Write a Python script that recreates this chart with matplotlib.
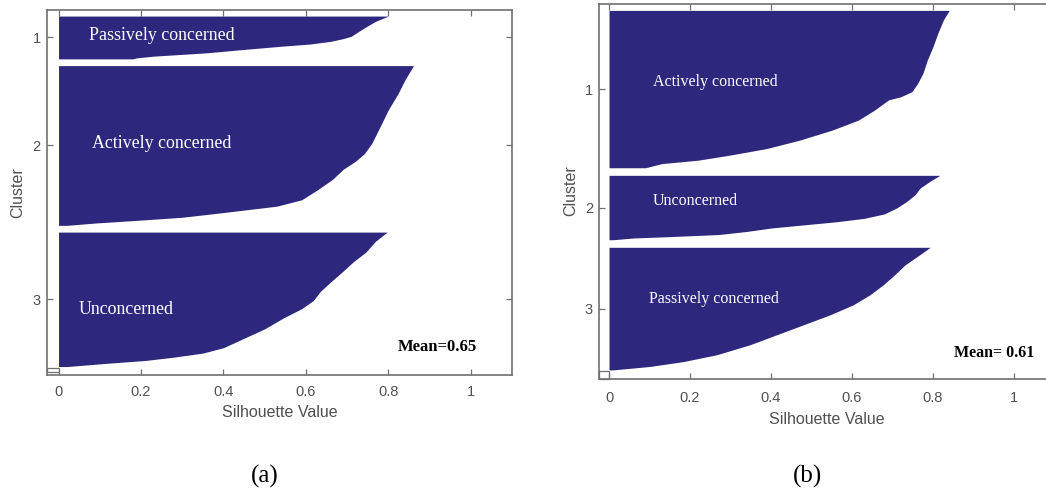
import numpy as np
import matplotlib
matplotlib.use("Agg")
from matplotlib import pyplot as plt
from matplotlib.patches import Rectangle

# ---- data ----
# cluster sizes (samples) and sorted silhouette profile (rank within cluster -> value)
a_sizes = [127, 474, 399]
a_gap = 20
a_rank = [
    [0, 15, 29, 44, 60, 67, 75, 83, 89, 99, 109, 119, 124, 127],
    [0, 43, 82, 131, 181, 230, 261, 284, 308, 337, 367, 398, 417, 436, 450, 460, 467, 474],
    [0, 28, 60, 88, 116, 148, 176, 203, 227, 255, 287, 315, 343, 359, 371, 381, 389, 395, 399],
]
a_sil = [
    [0.80, 0.77, 0.75, 0.73, 0.71, 0.69, 0.66, 0.61, 0.545, 0.45, 0.36, 0.23, 0.19, 0.18],
    [0.861, 0.84, 0.824, 0.80, 0.78, 0.76, 0.742, 0.72, 0.69, 0.665, 0.63, 0.59, 0.53, 0.40,
     0.30, 0.18, 0.09, 0.02],
    [0.797, 0.768, 0.745, 0.715, 0.69, 0.66, 0.635, 0.618, 0.59, 0.545, 0.50, 0.45, 0.40,
     0.35, 0.28, 0.21, 0.12, 0.06, 0.02],
]
a_names = ["Passively concerned", "Actively concerned", "Unconcerned"]
a_mean = "Mean=0.65"

b_sizes = [457, 187, 356]
b_gap = 22
b_rank = [
    [0, 27, 66, 105, 144, 183, 212, 236, 251, 260, 290, 319, 348, 377, 401, 420, 435, 445, 457],
    [0, 17, 37, 56, 76, 95, 112, 125, 135, 144, 153, 163, 172, 178, 182, 187],
    [0, 21, 51, 79, 109, 138, 167, 196, 225, 254, 283, 312, 332, 346, 356],
]
b_sil = [
    [0.84, 0.826, 0.812, 0.80, 0.786, 0.775, 0.762, 0.748, 0.72, 0.69, 0.655, 0.615, 0.55,
     0.47, 0.39, 0.30, 0.22, 0.13, 0.09],
    [0.817, 0.793, 0.768, 0.756, 0.735, 0.71, 0.68, 0.63, 0.56, 0.48, 0.40, 0.34, 0.27,
     0.15, 0.06, 0.01],
    [0.793, 0.768, 0.731, 0.706, 0.677, 0.644, 0.603, 0.546, 0.48, 0.414, 0.348, 0.266,
     0.183, 0.101, 0.01],
]
b_names = ["Actively concerned", "Unconcerned", "Passively concerned"]
b_mean = "Mean= 0.61"

xticks = [0, 0.2, 0.4, 0.6, 0.8, 1]
xticklabels = ["0", "0.2", "0.4", "0.6", "0.8", "1"]

bar_color = "#2d287d"
frame_color = "#707070"
tick_text = "#505050"
serif = "Liberation Serif"
sans = "Liberation Sans"

W, H = 1046, 491
fig = plt.figure(figsize=(W / 100, H / 100), dpi=100)


def silplot(rect, sizes, gap, ranks, sils, names, name_pos, name_fs, mean_txt, mean_pos, mean_fs,
            xlim, ylim_pad, box_h, xlabel_y, tickpad):
    ax = fig.add_axes(rect)
    starts = np.concatenate([[0], np.cumsum(np.array(sizes) + gap)[:-1]])
    for s, r, v in zip(starts, ranks, sils):
        y = s + np.array(r)
        ax.fill_betweenx(y, 0, v, color=bar_color, lw=0)
    end = starts[-1] + sizes[-1]
    # little baseline box at the bottom left (matlab leftover)
    ax.add_patch(Rectangle((xlim[0], end + 3), -xlim[0], box_h, fc="white", ec=frame_color,
                           lw=0.9, clip_on=False))
    centers = starts + np.array(sizes) / 2
    for nm, (px, py) in zip(names, name_pos):
        ax.text(px, py, nm, color="white", fontsize=name_fs, family=serif, ha="center", va="center")
    ax.text(mean_pos[0], mean_pos[1], mean_txt, fontsize=mean_fs, family=serif,
            weight="bold", ha="center", va="center", color="black")
    ax.set_xlim(xlim)
    ax.set_ylim(end + ylim_pad[1], -ylim_pad[0])
    ax.set_xticks(xticks)
    ax.set_xticklabels(xticklabels, family=sans)
    ax.set_yticks(centers)
    ax.set_yticklabels(["1", "2", "3"], family=sans)
    ax.tick_params(direction="in", top=True, right=True, length=4, width=0.9,
                   color=frame_color, labelcolor=tick_text, labelsize=10.5)
    ax.tick_params(axis="x", pad=tickpad)
    ax.tick_params(axis="y", pad=4.5)
    for sp in ax.spines.values():
        sp.set_color(frame_color)
        sp.set_linewidth(1.2)
    ax.set_xlabel("Silhouette Value", family=sans, fontsize=11.5, color=tick_text)
    ax.set_ylabel("Cluster", family=sans, fontsize=11.5, color=tick_text)
    ax.xaxis.set_label_coords(0.5, xlabel_y)
    ax.yaxis.set_label_coords(-0.047, 0.5)
    return ax


# (a)
silplot([47 / W, 1 - 375 / H, 465 / W, 365 / H], a_sizes, a_gap, a_rank, a_sil, a_names,
        [(0.25, 59), (0.25, 377), (0.163, 870)], 12.9, a_mean, (0.92, 981), 12,
        (-0.028, 1.10), (18, 25), 14, -0.082, 7)

# (b)
silplot([599.3 / W, 1 - 378.5 / H, 455.2 / W, 375 / H], b_sizes, b_gap, b_rank, b_sil, b_names,
        [(0.262, 207), (0.213, 553), (0.259, 838)], 11.5, b_mean, (0.952, 996), 11.5,
        (-0.024, 1.10), (20, 25), 22, -0.09, 9)

fig.text(265 / W, 1 - 476 / H, "(a)", family=serif, fontsize=18, ha="center", va="center")
fig.text(807.5 / W, 1 - 476 / H, "(b)", family=serif, fontsize=18, ha="center", va="center")

fig.savefig("out.png", dpi=100, facecolor="white")
